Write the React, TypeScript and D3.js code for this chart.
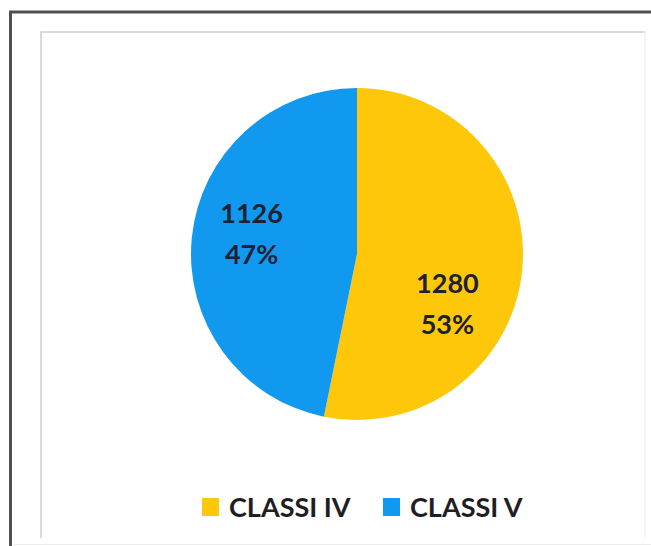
import React from "react";
import * as d3 from "d3";

const categories = ["CLASSI IV", "CLASSI V"];
const values = [1280, 1126];
const percentLabels = ["53%", "47%"];
const colors = ["#FFC709", "#1199F0"];
// label nudges (px) from the slice centroid, as placed by the original "best fit"
const labelNudgeX = [-12, -3];
const labelNudgeY = [40, -10];

const W = 651;
const H = 546;

export default function App() {
  const cx = 357;
  const cy = 254;
  const r = 166;
  const pie = d3.pie<number>().sort(null).value((d) => d);
  const arcs = pie(values);
  const arcGen = d3.arc<d3.PieArcDatum<number>>().innerRadius(0).outerRadius(r);
  const labelArc = d3.arc<d3.PieArcDatum<number>>().innerRadius(r * 0.62).outerRadius(r * 0.62);

  const legendX = [202, 383];
  const legendY = 507;

  return (
    <div style={{ position: "absolute", left: 0, top: 0, width: W, height: H, background: "#fff" }}>
      <svg width={W} height={H} style={{ display: "block" }} fontFamily="Lato, 'Open Sans', sans-serif">
        <rect x={0} y={0} width={W} height={H} fill="#fff" />
        <path d={`M10.5,${H} V12 H${W}`} fill="none" stroke="#505050" strokeWidth={3} />
        <path d={`M41,538 V32 H645`} fill="none" stroke="#d0d0d0" strokeWidth={1.5} />
        <line x1={645} x2={645} y1={32} y2={538} stroke="#ececec" strokeWidth={1} />
        <line x1={14} x2={W} y1={544.5} y2={544.5} stroke="#ececec" strokeWidth={1} />
        <g transform={`translate(${cx},${cy})`}>
          {arcs.map((a, i) => (
            <path key={i} d={arcGen(a) || ""} fill={colors[i]} />
          ))}
          {arcs.map((a, i) => {
            const [x0, y0] = labelArc.centroid(a);
            const lx = x0 + labelNudgeX[i];
            const ly = y0 + labelNudgeY[i];
            return (
              <text key={"t" + i} textAnchor="middle" fontWeight="bold" fontSize={27} fill="#1c2233">
                <tspan x={lx} y={ly - 11}>{values[i]}</tspan>
                <tspan x={lx} y={ly + 30}>{percentLabels[i]}</tspan>
              </text>
            );
          })}
        </g>
        {categories.map((c, i) => (
          <g key={c} transform={`translate(${legendX[i]},${legendY})`}>
            <rect x={0} y={-9} width={17} height={18} fill={colors[i]} />
            <text x={27} y={9.5} fontSize={27} fontWeight="bold" fill="#1e1e24">{c}</text>
          </g>
        ))}
      </svg>
    </div>
  );
}
